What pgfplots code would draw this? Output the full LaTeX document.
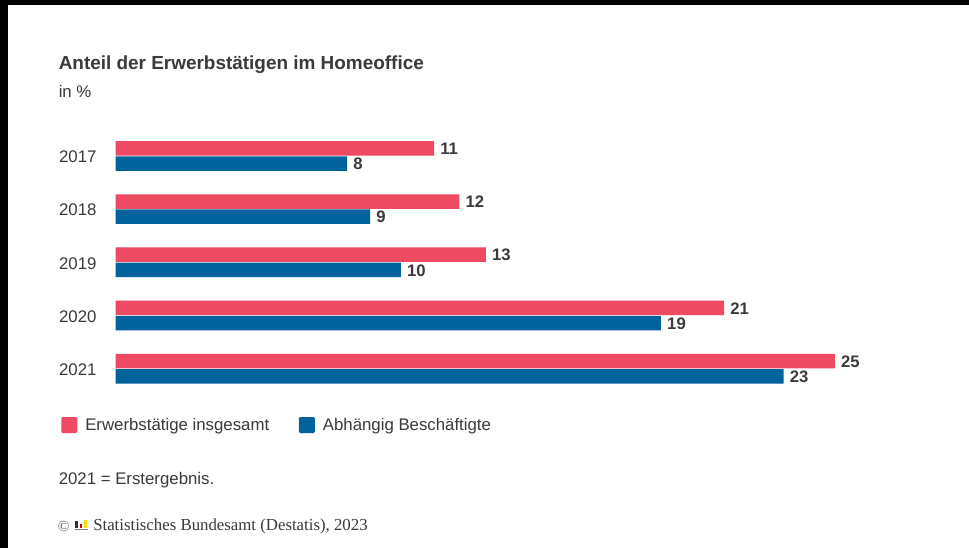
\documentclass[border=0pt]{standalone}
\usepackage{pgfplots}
\pgfplotsset{compat=1.18}
\usepackage{fontspec}
\setmainfont{Liberation Sans}
\newfontfamily\serifft{Liberation Serif}
\definecolor{rotb}{HTML}{EE4A62}
\definecolor{blaub}{HTML}{00639B}
\definecolor{txt}{HTML}{3A3A3A}
\begin{document}
\begin{tikzpicture}
\useasboundingbox (0,0) rectangle (726.75pt,411pt);
\begin{scope}[x=0.75pt,y=-0.75pt,yshift=411pt]
\fill[white] (0,0) rectangle (969,548);
\fill[black] (0,0) rectangle (969,5);
\fill[black] (0,0) rectangle (8,548);
\node[anchor=base west,inner sep=0,text=txt,font=\fontsize{14.2}{16}\selectfont\bfseries] at (58.5,69.5) {Anteil der Erwerbstätigen im Homeoffice};
\node[anchor=base west,inner sep=0,text=txt,font=\fontsize{12.6}{14}\selectfont] at (58.5,97.5) {in \%};
\node[anchor=base west,inner sep=0,text=txt,font=\fontsize{12.6}{14}\selectfont] at (58.5,485) {2021 = Erstergebnis.};
\node[anchor=base west,inner sep=0,text=black!65,font=\fontsize{11.5}{13}\selectfont\serifft] at (57.5,531.5) {©};
\fill[black!80] (75,528) rectangle (77.5,521);
\fill[red!80!black] (79.5,528) rectangle (82,524);
\fill[yellow!80!orange] (84,528) rectangle (86.5,520);
\draw[black!50,line width=0.5pt] (74.5,529.5) -- (88,529.5);
\node[anchor=base west,inner sep=0,text=txt,font=\fontsize{12.6}{14}\selectfont\serifft] at (93,531) {Statistisches Bundesamt (Destatis), 2023};
\end{scope}
\begin{axis}[
  at={(86.625pt,114.5pt)},anchor=south west,
  scale only axis,width=540pt,height=199.5pt,
  xmin=0,xmax=25,ymin=-0.5,ymax=4.5,
  xbar,bar width=10.9pt,
  axis x line=none,
  axis y line=left,
  y axis line style={draw=none},
  clip=false,
  ytick={0,1,2,3,4},yticklabels={2021,2020,2019,2018,2017},
  major tick length=0pt,
  y tick label style={font=\fontsize{12.6}{14}\selectfont,text=txt,anchor=west,inner sep=0pt,xshift=-42.5pt,yshift=-0.7pt},
  /pgf/number format/assume math mode=true,
  point meta=explicit symbolic,
  nodes near coords,
  every node near coord/.append style={font=\fontsize{12.5}{14}\selectfont\bfseries,text=txt,inner sep=0pt,xshift=4.5pt,yshift=-0.3pt,anchor=west},
  legend style={draw=none,fill=none,at={(-0.0757,-0.074)},anchor=north west,inner sep=0pt,
    legend columns=2,font=\fontsize{12.6}{14}\selectfont,text=txt,
    /tikz/every odd column/.append style={column sep=4pt},
    /tikz/every even column/.append style={column sep=20.25pt},
    legend cell align=left},
  legend image code/.code={\fill[#1,rounded corners=1pt] (0,-6pt) rectangle (12pt,6pt);},
]
\addplot[fill=rotb,draw=none,bar shift=5.7pt] coordinates {(11.06,4)[11] (11.94,3)[12] (12.86,2)[13] (21.13,1)[21] (24.98,0)[25]};
\addlegendentry{Erwerbstätige insgesamt}
\addplot[fill=blaub,draw=none,bar shift=-5.7pt] coordinates {(8.04,4)[8] (8.84,3)[9] (9.91,2)[10] (18.94,1)[19] (23.2,0)[23]};
\addlegendentry{Abhängig Beschäftigte}
\end{axis}
\end{tikzpicture}
\end{document}
